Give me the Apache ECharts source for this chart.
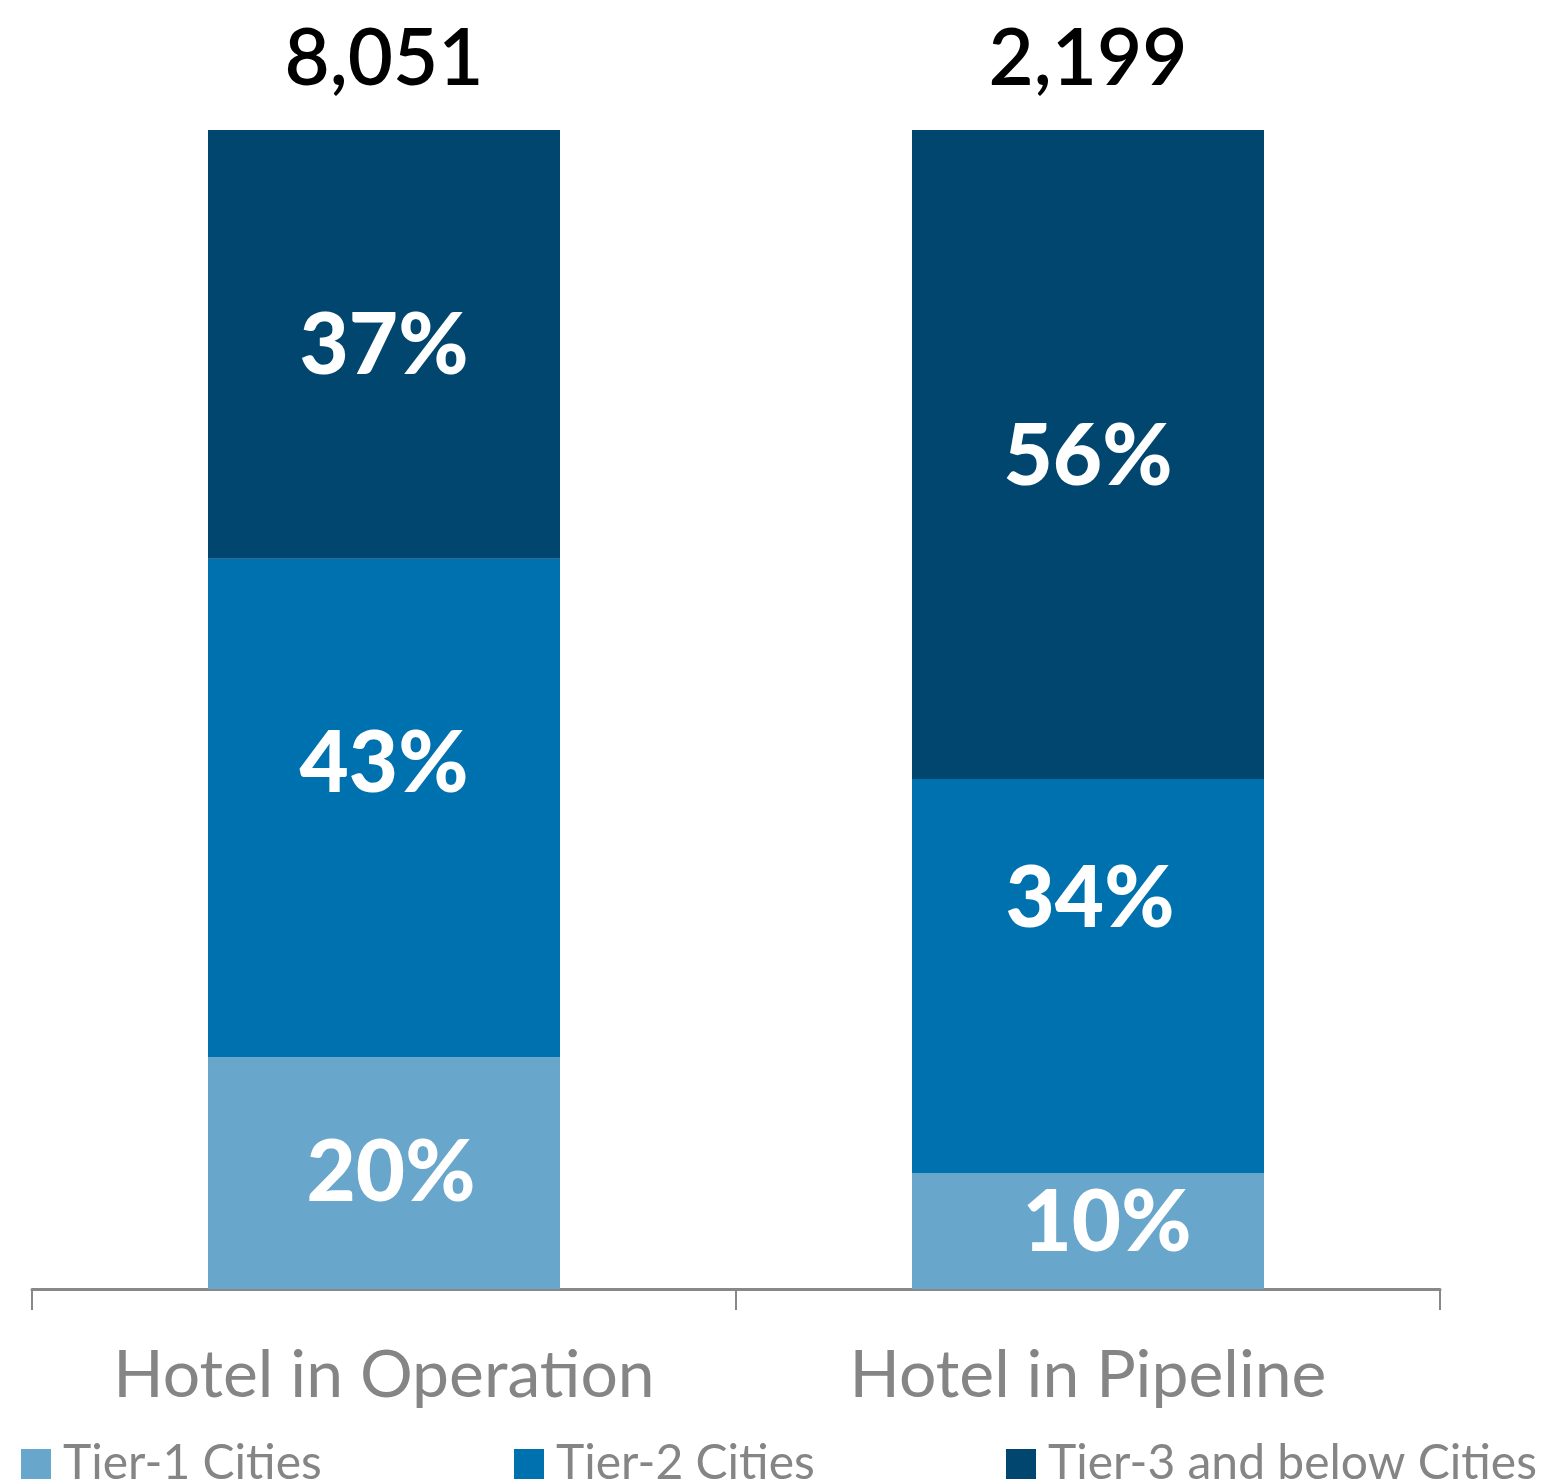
<!DOCTYPE html>
<html><head><meta charset="utf-8">
<script src="https://cdn.jsdelivr.net/npm/echarts@6/dist/echarts.min.js"></script>
<style>html,body{margin:0;padding:0;background:#fff}#c{width:1548px;height:1484px}</style>
</head><body><div id="c"></div>
<script>
const categories = ['Hotel in Operation', 'Hotel in Pipeline'];
const totals = ['8,051', '2,199'];
const tier1 = [20, 10];
const tier2 = [43, 34];
const tier3 = [37, 56];
const seriesNames = ['Tier-1 Cities', 'Tier-2 Cities', 'Tier-3 and below Cities'];

const colors = ['#68A6CC', '#0071AF', '#00466F'];
// label nudges (style only) per series per category
const labelNudge = [
  [[7, 0], [19, -7]],
  [[0, -43], [2, -76]],
  [[0, 2], [0, 3]]
];
const legendLefts = [21, 514, 1006];
const FONT = 'Lato';
const values = [tier1, tier2, tier3];

const chart = echarts.init(document.getElementById('c'));
chart.setOption({
  animation: false,
  grid: { left: 32, right: 108, top: 130, bottom: 195 },
  legend: seriesNames.map((n, i) => ({
    data: [n],
    left: legendLefts[i], top: 1440, padding: 0,
    itemWidth: 30, itemHeight: 30, itemGap: 0,
    icon: 'rect',
    textStyle: { fontFamily: FONT, fontSize: 48, color: '#858585', padding: [0, 0, 0, 7] }
  })),
  xAxis: [{
    type: 'category', data: categories, position: 'bottom',
    axisLine: { show: true, lineStyle: { color: '#888', width: 3 } },
    axisTick: { show: true, alignWithLabel: false, length: 21, lineStyle: { color: '#888', width: 2 } },
    axisLabel: { fontFamily: FONT, fontSize: 66, color: '#858585', margin: 54 }
  }, {
    type: 'category', data: totals, position: 'top',
    axisLine: { show: false }, axisTick: { show: false },
    axisLabel: { fontFamily: FONT, fontSize: 78, fontWeight: 600, color: '#000', margin: 31 }
  }],
  yAxis: { type: 'value', min: 0, max: 100, show: false },
  series: values.map((vals, i) => ({
    name: seriesNames[i], type: 'bar', stack: 'all', barWidth: '50%',
    itemStyle: { color: colors[i] },
    data: vals.map((v, j) => ({
      value: v,
      label: { offset: labelNudge[i][j] }
    })),
    label: {
      show: true, position: 'inside', formatter: '{c}%',
      fontFamily: FONT, fontSize: 85, fontWeight: 900, color: '#fff'
    }
  }))
});
</script></body></html>
